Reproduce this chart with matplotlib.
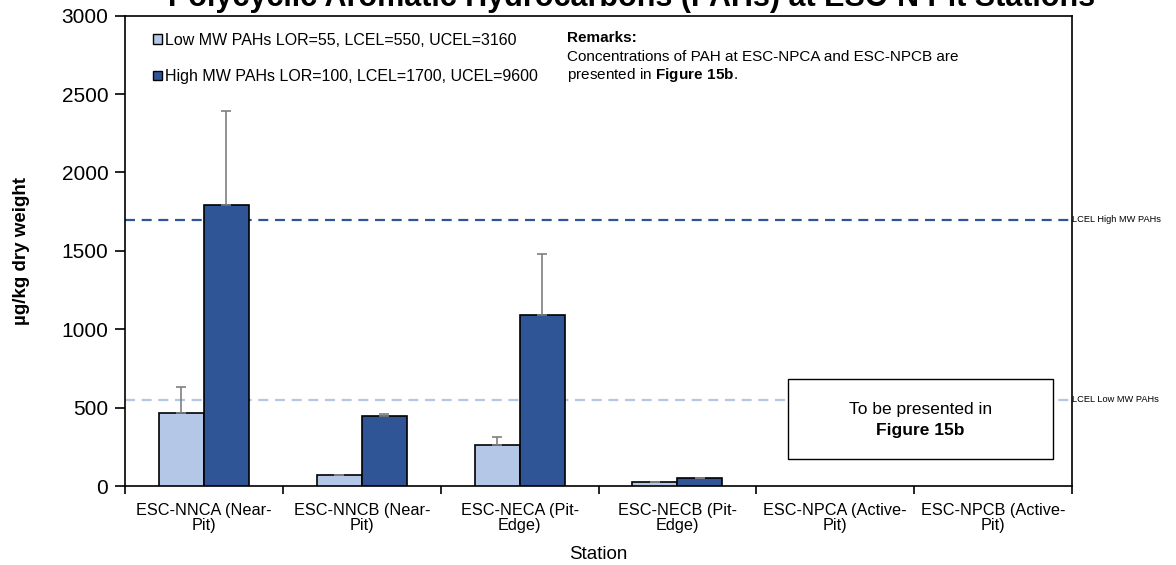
import numpy as np
import matplotlib
matplotlib.use("Agg")
import matplotlib.pyplot as plt
from matplotlib.patches import Patch, Rectangle

plt.rcParams['font.family'] = ['Liberation Sans', 'DejaVu Sans']
plt.rcParams['mathtext.fontset'] = 'custom'
plt.rcParams['mathtext.rm'] = 'Liberation Sans'
plt.rcParams['mathtext.bf'] = 'Liberation Sans:bold'

stations = ['ESC-NNCA (Near-\nPit)', 'ESC-NNCB (Near-\nPit)', 'ESC-NECA (Pit-\nEdge)',
            'ESC-NECB (Pit-\nEdge)', 'ESC-NPCA (Active-\nPit)', 'ESC-NPCB (Active-\nPit)']
low_mw = [465, 70, 263, 25, np.nan, np.nan]
low_err = [165, 3, 52, 1, np.nan, np.nan]
high_mw = [1790, 448, 1092, 50, np.nan, np.nan]
high_err = [600, 12, 388, 3, np.nan, np.nan]
lcel_low = 550
lcel_high = 1700
low_label = 'Low MW PAHs LOR=55, LCEL=550, UCEL=3160'
high_label = 'High MW PAHs LOR=100, LCEL=1700, UCEL=9600'

c_low = '#B4C7E7'
c_high = '#2F5597'

fig = plt.figure(figsize=(11.76, 5.65), dpi=100)
ax = fig.add_axes([0.1063, 0.1398, 0.8053, 0.8324])

x = np.arange(len(stations))
w = 0.285
ax.bar(x - w / 2, low_mw, w, color=c_low, edgecolor='black', linewidth=1.2, zorder=3,
       yerr=[np.zeros(len(x)), low_err], ecolor='#7F7F7F',
       error_kw=dict(capsize=3.5, elinewidth=1.2, capthick=1.2))
ax.bar(x + w / 2, high_mw, w, color=c_high, edgecolor='black', linewidth=1.2, zorder=3,
       yerr=[np.zeros(len(x)), high_err], ecolor='#7F7F7F',
       error_kw=dict(capsize=3.5, elinewidth=1.2, capthick=1.2))

ax.axhline(lcel_high, color=c_high, lw=1.6, ls=(0, (4.5, 3)), zorder=2)
ax.axhline(lcel_low, color=c_low, lw=1.6, ls=(0, (4.5, 3)), zorder=2)
ax.text(1.0, lcel_high, 'LCEL High MW PAHs', transform=ax.get_yaxis_transform(),
        fontsize=6.7, va='center', ha='left', clip_on=False)
ax.text(1.0, lcel_low, 'LCEL Low MW PAHs', transform=ax.get_yaxis_transform(),
        fontsize=6.7, va='center', ha='left', clip_on=False)

# placeholder box for the active-pit stations
ax.add_patch(Rectangle((3.70, 173), 1.68, 507, facecolor='white', edgecolor='black',
                       lw=1.0, zorder=4))
ax.text(4.54, 490, 'To be presented in', ha='center', va='center', fontsize=12.5, zorder=5)
ax.text(4.54, 357, 'Figure 15b', ha='center', va='center', fontsize=12.5,
        fontweight='bold', zorder=5)

ax.set_xlim(-0.5, 5.5)
ax.set_ylim(0, 3000)
ax.set_yticks(np.arange(0, 3001, 500))
ax.tick_params(axis='y', labelsize=15, length=7, width=1.2, direction='out', pad=5)
ax.set_xticks(x)
ax.set_xticklabels(stations, fontsize=11.7, linespacing=1.05)
ax.set_xticks(np.arange(-0.5, 6, 1), minor=True)
ax.tick_params(axis='x', which='major', length=0, pad=12)
ax.tick_params(axis='x', which='minor', length=6, width=1.2, direction='out')
for s in ax.spines.values():
    s.set_linewidth(1.2)

ax.set_ylabel('µg/kg dry weight', fontsize=13.5, fontweight='bold', labelpad=23)
ax.set_xlabel('Station', fontsize=13.5, labelpad=9)

handles = [Patch(facecolor=c_low, edgecolor='black', lw=1.0),
           Patch(facecolor=c_high, edgecolor='black', lw=1.0)]
ax.legend(handles, [low_label, high_label], loc='upper left', bbox_to_anchor=(0.018, 0.988),
          frameon=False, fontsize=11.5, handlelength=0.55, handleheight=0.55,
          handletextpad=0.2, labelspacing=1.35, borderpad=0.2)

ax.text(0.467, 0.968, 'Remarks:', transform=ax.transAxes, fontsize=11, fontweight='bold',
        va='top', ha='left')
ax.text(0.467, 0.928, 'Concentrations of PAH at ESC-NPCA and ESC-NPCB are\n'
        r'presented in $\mathbf{Figure\ 15b}$.', transform=ax.transAxes, fontsize=11,
        va='top', ha='left', linespacing=1.15)

fig.text(0.537, 0.990, 'Polycyclic Aromatic Hydrocarbons (PAHs) at ESC-N Pit Stations',
         ha='center', va='baseline', fontsize=22, fontweight='bold')

fig.savefig('out.png', dpi=100)
